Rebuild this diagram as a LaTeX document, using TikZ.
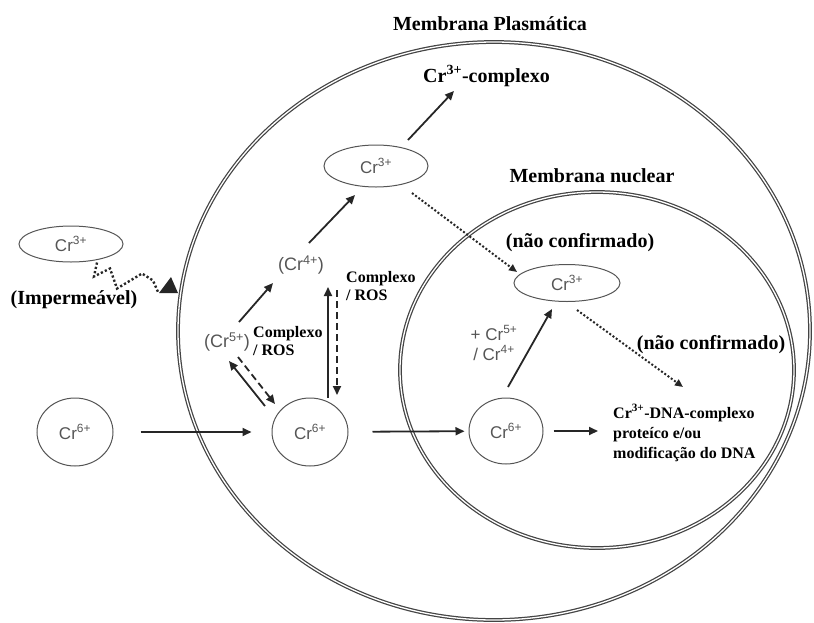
\documentclass[tikz,border=0pt]{standalone}
\usepackage{fontspec}
\setmainfont{Liberation Serif}
\newfontfamily\ionf{Liberation Sans}
\usetikzlibrary{shapes.geometric,arrows.meta,calc}
\definecolor{ionc}{HTML}{555555}
\definecolor{linec}{HTML}{262626}
\definecolor{membc}{HTML}{444444}
\begin{document}
\begin{tikzpicture}[x=1pt,y=-1pt,
 ion/.style={ellipse, draw=ionc, line width=1pt, inner sep=0pt, text=ionc, font=\ionf\fontsize{17}{20}\selectfont},
 iontext/.style={inner sep=0pt, text=ionc, font=\ionf\fontsize{18}{20}\selectfont},
 biglab/.style={inner sep=0pt, font=\fontsize{20}{24}\selectfont\bfseries},
 smalllab/.style={inner sep=0pt, align=left, font=\fontsize{16}{18}\selectfont\bfseries},
 dnalab/.style={inner sep=0pt, align=left, font=\fontsize{16}{20}\selectfont\bfseries},
 memb/.style={draw=membc, line width=1.25pt, double=white, double distance=1.3pt},
 arr/.style={draw=linec, line width=1.8pt, -{Triangle[length=9pt,width=8pt]}},
 dasharr/.style={arr, dash pattern=on 7pt off 4pt},
 dotarr/.style={draw=linec, line width=2pt, dash pattern=on 2pt off 2pt, -{Triangle[length=8pt,width=7pt]}},
 wavy/.style={draw=linec, line width=2.4pt, dash pattern=on 2.2pt off 2.2pt},
]
\useasboundingbox (0,0) rectangle (814,622);

% membranes
\draw[memb] (494,331) ellipse [x radius=316, y radius=289];
\draw[memb] (597,370) ellipse [x radius=197, y radius=178];

% nodes
\node[ion, minimum width=104pt, minimum height=36pt] (cr3out) at (71,244) {Cr\textsuperscript{3+}};
\node[biglab] (imp) at (74,300) {(Impermeável)};
\node[ion, minimum width=76pt, minimum height=68pt] (cr6out) at (75,432) {Cr\textsuperscript{6+}};
\node[ion, minimum width=76pt, minimum height=68pt] (cr6m) at (310,432) {Cr\textsuperscript{6+}};
\node[iontext] (cr5) at (227,342) {(Cr\textsuperscript{5+})};
\node[iontext] (cr4) at (301,265) {(Cr\textsuperscript{4+})};
\node[ion, minimum width=104pt, minimum height=42pt] (cr3m) at (376,166) {Cr\textsuperscript{3+}};
\node[biglab, anchor=west] (cplx) at (423,76) {Cr\textsuperscript{3+}-complexo};
\node[biglab] (pm) at (490,24) {Membrana Plasmática};
\node[biglab] (nm) at (592,176) {Membrana nuclear};
\node[biglab] (nc1) at (580,243) {(não confirmado)};
\node[biglab] (nc2) at (711,345) {(não confirmado)};
\node[smalllab, anchor=west] (ros1) at (253,341) {Complexo\\/ ROS};
\node[smalllab, anchor=west] (ros2) at (346,286) {Complexo\\/ ROS};
\node[ion, minimum width=106pt, minimum height=37pt] (cr3n) at (567,283) {Cr\textsuperscript{3+}};
\node[ion, minimum width=74pt, minimum height=66pt] (cr6n) at (506,431) {Cr\textsuperscript{6+}};
\node[iontext, align=center, font=\ionf\fontsize{17}{20}\selectfont] (plus) at (494,343) {+ Cr\textsuperscript{5+}\\/ Cr\textsuperscript{4+}};
\node[dnalab, anchor=west] (dna) at (613,433) {Cr\textsuperscript{3+}-DNA-complexo\\proteíco e/ou\\modificação do DNA};

% impermeable wavy path
\coordinate (tri) at (169,288);
\draw[wavy] ($(cr3out.south)+(26,0)$) -- ++(-3,14) -- ++(16,-8) -- ++(7,20) -- ++(25,-15) -- ++(11,7) -- ($(tri)+(-11,4)$);
\fill[linec] ($(tri)+(-10,5)$) -- ($(tri)+(9,5)$) -- ($(tri)+(2,-11)$) -- cycle;

% connectors
\draw[arr, shorten <=27pt, shorten >=20pt] (cr6out) -- (cr6m);
\draw[arr, shorten <=24pt, shorten >=4pt] (cr6m) -- (cr6n);
\draw[arr] ($(cr6n.east)+(10,0)$) -- ($(cr6n.east -| dna.west)+(-15,0)$);
\draw[arr] ($(cr6m)+(-45,-26)$) -- ($(cr5)+(2,19)$);
\draw[dasharr] ($(cr5)+(11,15)$) -- ($(cr6m)+(-35,-28)$);
\draw[arr] ($(cr5)+(12,-20)$) -- ($(cr4)+(-28,18)$);
\draw[arr] ($(cr6m)+(18,-34)$) -- ($(cr6m)+(18,-145)$);
\draw[dasharr] ($(cr6m)+(27,-142)$) -- ($(cr6m)+(27,-37)$);
\draw[arr] ($(cr4)+(8,-22)$) -- ($(cr3m)+(-21,29)$);
\draw[arr] ($(cr3m)+(32,-26)$) -- ($(cplx.west)+(31,15)$);
\draw[dotarr] ($(cr3m)+(36,27)$) -- ($(cr3n)+(-50,-11)$);
\draw[arr] ($(cr6n)+(2,-44)$) -- ($(cr3n)+(-15,26)$);
\draw[dotarr] ($(cr3n)+(10,27)$) -- ($(dna.west)+(70,-46)$);
\end{tikzpicture}
\end{document}
